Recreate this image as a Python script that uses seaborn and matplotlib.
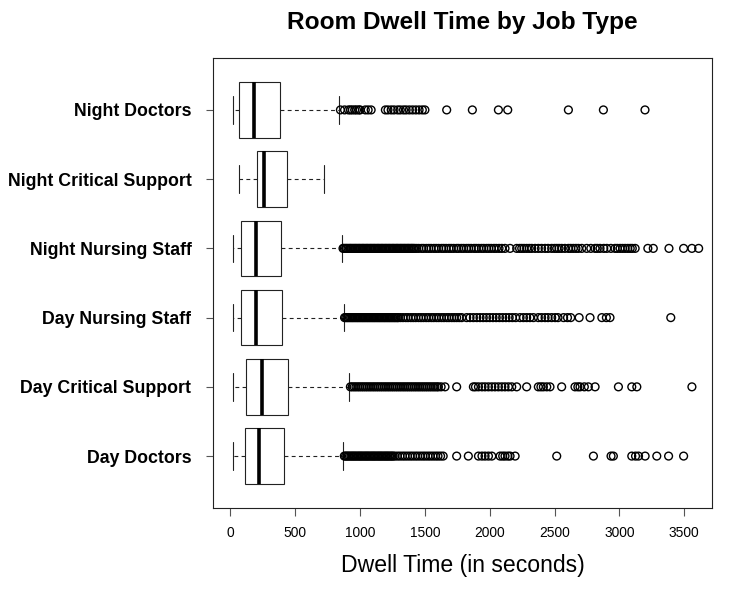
import numpy as np
import pandas as pd
import matplotlib
matplotlib.use("Agg")
import matplotlib.pyplot as plt
import seaborn as sns

# job groups, top to bottom
jobs = ["Night Doctors", "Night Critical Support", "Night Nursing Staff",
        "Day Nursing Staff", "Day Critical Support", "Day Doctors"]

# five-number summaries: lower whisker, Q1, median, Q3, upper whisker
whisker_low = [17, 68, 17, 17, 17, 17]
q1 = [68, 202, 81, 84, 120, 109]
median = [181, 261, 194, 199, 245, 220]
q3 = [382, 433, 392, 400, 441, 410]
whisker_high = [835, 719, 860, 873, 917, 871]

# outliers (seconds)
night_doctors_out = [848, 880, 910, 925, 940, 958, 972, 990, 1000, 1040, 1062, 1085,
                     1195, 1215, 1240, 1262, 1290, 1310, 1335, 1355, 1380, 1405, 1430,
                     1455, 1480, 1500, 1668, 1866, 2067, 2139, 2607, 2877, 3198]
night_critical_out = []
night_nursing_out = [868, 877, 888, 896, 907, 918, 926, 935, 946, 956, 965, 974, 985,
                     994, 1003, 1014, 1023, 1032, 1043, 1052, 1061, 1072, 1081, 1090,
                     1101, 1110, 1119, 1130, 1139, 1148, 1159, 1168, 1177, 1188, 1197,
                     1206, 1217, 1226, 1235, 1246, 1255, 1264, 1275, 1284, 1293, 1304,
                     1313, 1322, 1333, 1342, 1351, 1362, 1371, 1380, 1391, 1400, 1410, 1420,
                     1435, 1452, 1474, 1490, 1511, 1530, 1548, 1569, 1587, 1606, 1628,
                     1645, 1664, 1685, 1703, 1722, 1744, 1760, 1781, 1799, 1820, 1838,
                     1857, 1879, 1896, 1915, 1936, 1954, 1975, 1993, 2012, 2033, 2051,
                     2072, 2093, 2118, 2157, 2208, 2230, 2247, 2265, 2285, 2305, 2324,
                     2350, 2375, 2400, 2427, 2450, 2478, 2500, 2517, 2535, 2555, 2580,
                     2607, 2625, 2645, 2665, 2684, 2710, 2748, 2780, 2813, 2830, 2851,
                     2880, 2903, 2935, 2967, 2985, 3006, 3025, 3045, 3065, 3084, 3100,
                     3122, 3220, 3262, 3383, 3496, 3560, 3612]
day_nursing_out = [880, 889, 899, 908, 918, 927, 937, 946, 956, 965, 975, 984, 994,
                   1003, 1013, 1022, 1032, 1041, 1051, 1060, 1070, 1079, 1089, 1098,
                   1108, 1117, 1127, 1136, 1146, 1155, 1165, 1174, 1184, 1193, 1203,
                   1212, 1222, 1231, 1241, 1250, 1260, 1269, 1279, 1288, 1295,
                   1312, 1331, 1352, 1370, 1391, 1410, 1429, 1451, 1470, 1489, 1510,
                   1529, 1550, 1568, 1589, 1607, 1628, 1647, 1668, 1686, 1707, 1726,
                   1745, 1765, 1784, 1822, 1848, 1874, 1900, 1925, 1950, 1975, 2000,
                   2025, 2050, 2075, 2100, 2125, 2150, 2175, 2200, 2234, 2260, 2285,
                   2310, 2337, 2375, 2400, 2427, 2450, 2478, 2505, 2527, 2570, 2600,
                   2625, 2690, 2774, 2865, 2900, 2928, 3397]
day_critical_out = [925, 939, 954, 968, 983, 997, 1012, 1026, 1041, 1055, 1070, 1084,
                    1099, 1113, 1128, 1142, 1157, 1171, 1186, 1200, 1215, 1229, 1244,
                    1258, 1273, 1287, 1302, 1316, 1331, 1345, 1360, 1374, 1389, 1403,
                    1418, 1432, 1447, 1461, 1476, 1490, 1505, 1519, 1534, 1548, 1563,
                    1577, 1592, 1604, 1625, 1655, 1745, 1874, 1890, 1913, 1940, 1964,
                    1990, 2016, 2041, 2067, 2093, 2118, 2144, 2170, 2208, 2285, 2375,
                    2395, 2414, 2440, 2465, 2555, 2658, 2680, 2697, 2730, 2761, 2813,
                    2993, 3096, 3135, 3560]
day_doctors_out = [878, 888, 898, 908, 918, 929, 939, 949, 959, 969, 980, 990, 1000,
                   1010, 1020, 1031, 1041, 1051, 1061, 1071, 1082, 1092, 1102, 1112,
                   1122, 1133, 1143, 1153, 1163, 1173, 1184, 1194, 1204, 1214, 1224,
                   1235, 1245, 1255, 1268, 1288, 1307, 1327, 1346, 1366, 1386, 1405,
                   1425, 1444, 1464, 1484, 1503, 1523, 1542, 1562, 1582, 1601, 1621,
                   1641, 1745, 1835, 1913, 1940, 1964, 1990, 2016, 2080, 2100, 2118,
                   2140, 2157, 2196, 2517, 2800, 2936, 2954, 3096, 3125, 3148, 3199,
                   3289, 3380, 3496]

outliers = [night_doctors_out, night_critical_out, night_nursing_out,
            day_nursing_out, day_critical_out, day_doctors_out]

x_ticks = [0, 500, 1000, 1500, 2000, 2500, 3000, 3500]

# box data: the five numbers per job give exactly these quartiles
box_rows = []
for i, job in enumerate(jobs):
    for v in (whisker_low[i], q1[i], median[i], q3[i], whisker_high[i]):
        box_rows.append({"job": job, "seconds": v})
box_df = pd.DataFrame(box_rows)

out_df = pd.DataFrame([{"job": job, "seconds": v}
                       for job, vals in zip(jobs, outliers) for v in vals])

sns.set_style("ticks")
plt.rcParams["font.family"] = ["Liberation Sans", "DejaVu Sans"]
plt.rcParams["text.color"] = "black"
plt.rcParams["axes.labelcolor"] = "black"
plt.rcParams["xtick.labelcolor"] = "black"
plt.rcParams["ytick.labelcolor"] = "black"

fig = plt.figure(figsize=(7.29, 5.94), dpi=100)
ax = fig.add_axes([213 / 729, 86 / 594, (712 - 213) / 729, (508 - 58) / 594])

line_col = "#222222"
sns.boxplot(data=box_df, x="seconds", y="job", order=jobs, orient="h",
            whis=(0, 100), width=0.8, color="white", saturation=1,
            linecolor=line_col, linewidth=0.8, showfliers=False, ax=ax,
            medianprops={"linewidth": 2.6, "color": "black"},
            whiskerprops={"linestyle": (0, (3.5, 3))})

sns.stripplot(data=out_df, x="seconds", y="job", order=jobs, orient="h",
              jitter=False, size=5.6, color="black", ax=ax)
for coll in ax.collections:
    coll.set_facecolor("none")
    coll.set_edgecolor("black")
    coll.set_linewidth(1.0)

ax.set_xlim(-135, 3715)
ax.set_ylim(5.75, -0.75)
ax.set_xticks(x_ticks)
ax.set_xticklabels([str(t) for t in x_ticks])

for side in ["top", "right", "left", "bottom"]:
    ax.spines[side].set_visible(True)
    ax.spines[side].set_color(line_col)
    ax.spines[side].set_linewidth(0.8)

ax.tick_params(axis="x", length=5.8, width=0.8, color="#555555", pad=7,
               labelsize=9.9, labelcolor="black")
ax.tick_params(axis="y", length=5, width=0.8, color="#555555", pad=10.5,
               labelsize=12.8, labelcolor="black")
for lab in ax.get_yticklabels():
    lab.set_fontweight("bold")

ax.set_ylabel("")
ax.set_xlabel("Dwell Time (in seconds)", fontsize=16.6, labelpad=10, color="black")
ax.set_title("Room Dwell Time by Job Type", fontsize=17.6, fontweight="bold",
             pad=21, color="black")

fig.savefig("out.png", dpi=100)
